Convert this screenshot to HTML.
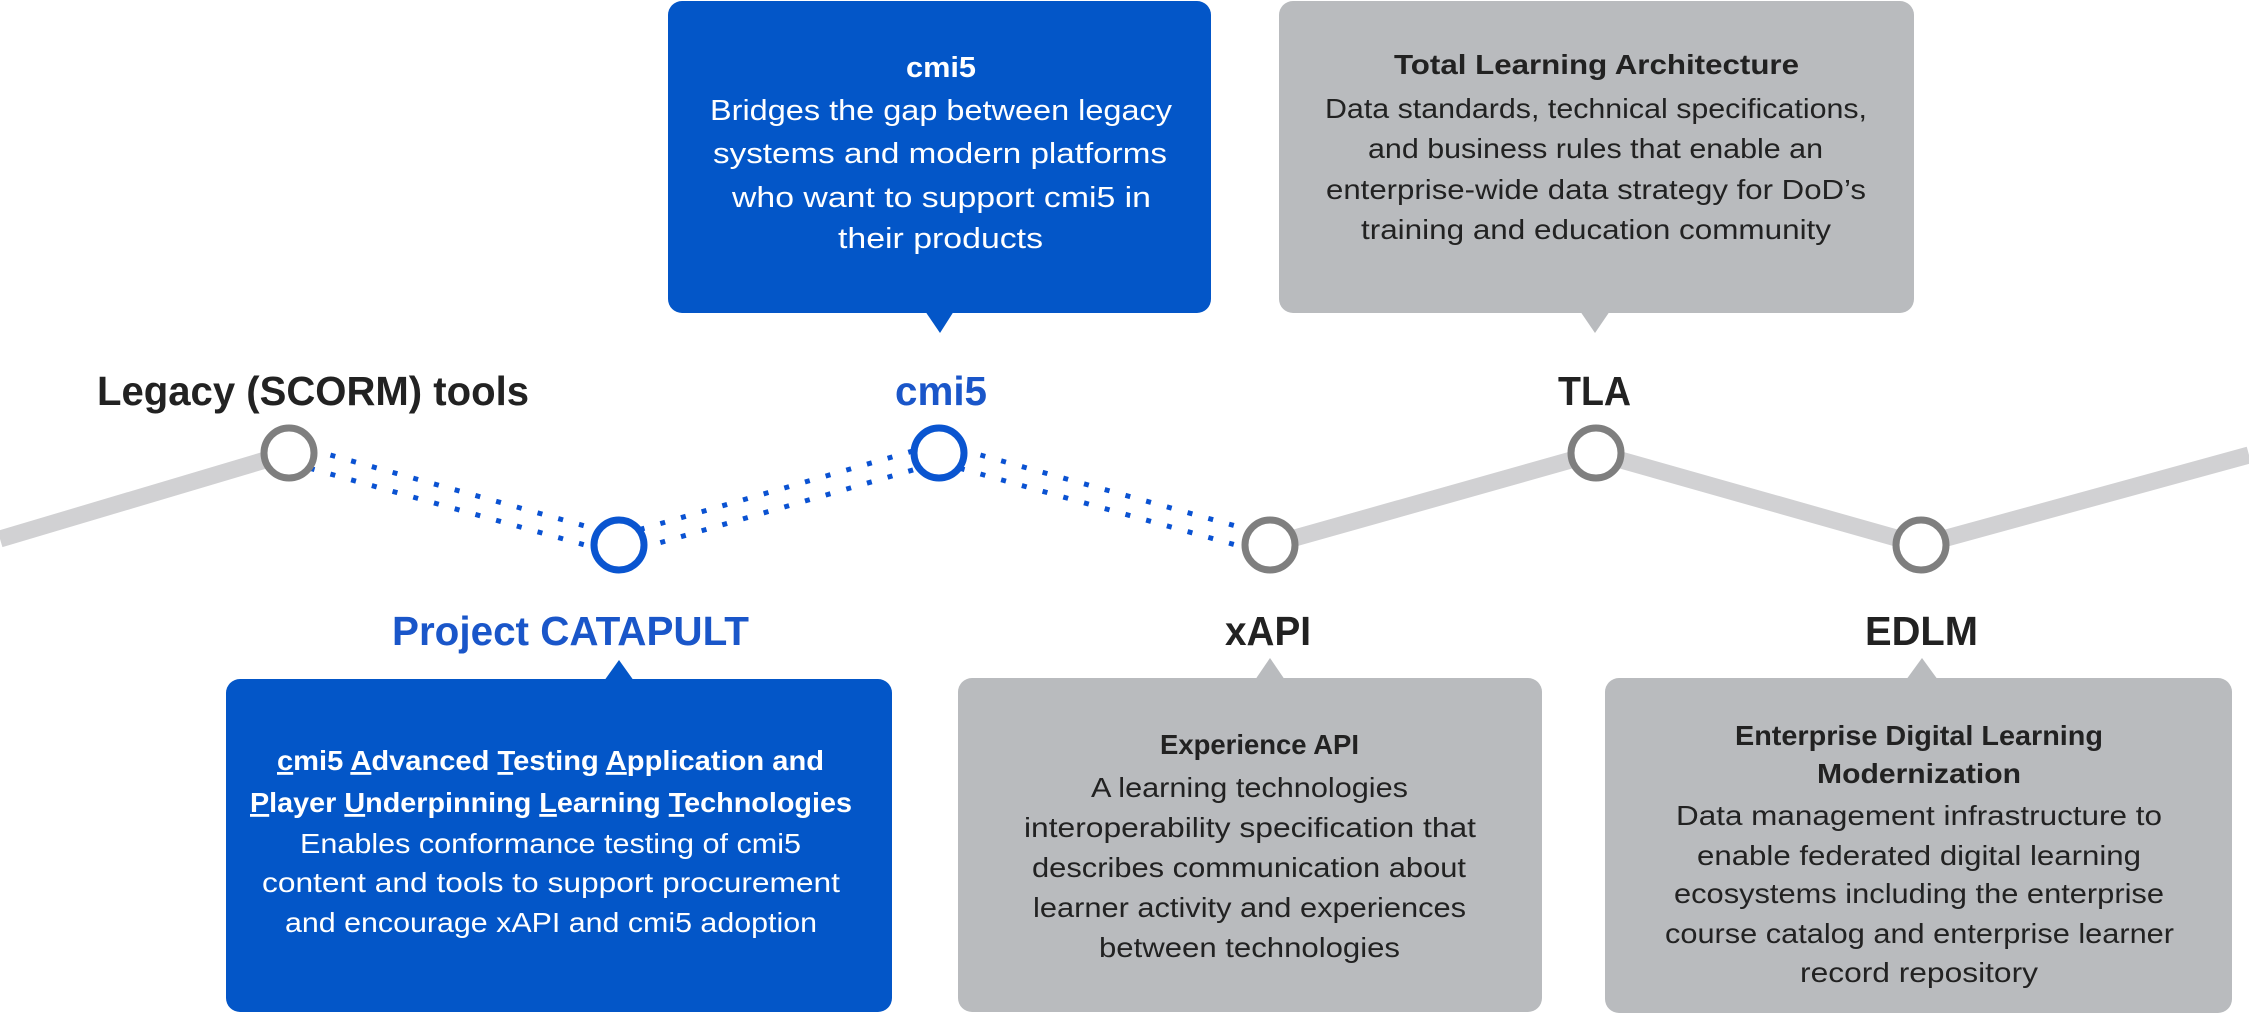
<!DOCTYPE html>
<html>
<head>
<meta charset="utf-8">
<style>
  html, body { margin: 0; padding: 0; background: #ffffff; }
  svg { display: block; }
  text { font-family: "Liberation Sans", Arial, sans-serif; }
</style>
</head>
<body>
<svg width="2249" height="1014" viewBox="0 0 2249 1014" xmlns="http://www.w3.org/2000/svg">
  <!-- Gray timeline segments -->
  <polyline points="0,539 289,453" fill="none" stroke="#d1d1d3" stroke-width="17" stroke-linejoin="round"/>
  <polyline points="1270,545 1596,453 1921,545 2249,455" fill="none" stroke="#d1d1d3" stroke-width="17" stroke-linejoin="round"/>

  <!-- Blue dotted double lines -->
  <g fill="none" stroke="#0a52d2" stroke-width="5" stroke-dasharray="5 16.5">
    <polyline points="289,443.5 619,535.5"/>
    <polyline points="289,462.5 619,554.5"/>
    <polyline points="619,535.5 939,443.5"/>
    <polyline points="619,554.5 939,462.5"/>
    <polyline points="939,443.5 1270,535.5"/>
    <polyline points="939,462.5 1270,554.5"/>
  </g>

  <!-- Nodes -->
  <circle cx="289" cy="453" r="25" fill="#ffffff" stroke="#7f7f7f" stroke-width="7"/>
  <circle cx="619" cy="545" r="25" fill="#ffffff" stroke="#0a55d0" stroke-width="7"/>
  <circle cx="939" cy="453" r="25" fill="#ffffff" stroke="#0a55d0" stroke-width="7"/>
  <circle cx="1270" cy="545" r="25" fill="#ffffff" stroke="#7f7f7f" stroke-width="7"/>
  <circle cx="1596" cy="453" r="25" fill="#ffffff" stroke="#7f7f7f" stroke-width="7"/>
  <circle cx="1921" cy="545" r="25" fill="#ffffff" stroke="#7f7f7f" stroke-width="7"/>

  <!-- Node labels -->
  <g font-size="41" font-weight="bold">
    <text x="97" y="405" fill="#222222" textLength="432" lengthAdjust="spacingAndGlyphs">Legacy (SCORM) tools</text>
    <text x="895" y="405" fill="#1a56c9" textLength="92" lengthAdjust="spacingAndGlyphs">cmi5</text>
    <text x="1558" y="405" fill="#222222" textLength="73" lengthAdjust="spacingAndGlyphs">TLA</text>
    <text x="392" y="645" fill="#1a56c9" textLength="357" lengthAdjust="spacingAndGlyphs">Project CATAPULT</text>
    <text x="1225" y="645" fill="#222222" textLength="86" lengthAdjust="spacingAndGlyphs">xAPI</text>
    <text x="1865" y="645" fill="#222222" textLength="113" lengthAdjust="spacingAndGlyphs">EDLM</text>
  </g>

  <!-- cmi5 top box -->
  <rect x="668" y="1" width="543" height="312" rx="14" ry="14" fill="#0356c8"/>
  <polygon points="925,311 954,311 940,333" fill="#0356c8"/>
  <g fill="#ffffff" font-size="29">
    <text x="906" y="77" font-weight="bold" textLength="70" lengthAdjust="spacingAndGlyphs">cmi5</text>
    <text x="710" y="120" textLength="462" lengthAdjust="spacingAndGlyphs">Bridges the gap between legacy</text>
    <text x="713" y="163" textLength="454" lengthAdjust="spacingAndGlyphs">systems and modern platforms</text>
    <text x="732" y="207" textLength="419" lengthAdjust="spacingAndGlyphs">who want to support cmi5 in</text>
    <text x="838" y="248" textLength="205" lengthAdjust="spacingAndGlyphs">their products</text>
  </g>

  <!-- TLA top box -->
  <rect x="1279" y="1" width="635" height="312" rx="14" ry="14" fill="#b9bbbe"/>
  <polygon points="1580,311 1610,311 1595,333" fill="#b9bbbe"/>
  <g fill="#222222" font-size="28">
    <text x="1394" y="74" font-weight="bold" textLength="405" lengthAdjust="spacingAndGlyphs">Total Learning Architecture</text>
    <text x="1325" y="118" textLength="542" lengthAdjust="spacingAndGlyphs">Data standards, technical specifications,</text>
    <text x="1368" y="158" textLength="455" lengthAdjust="spacingAndGlyphs">and business rules that enable an</text>
    <text x="1326" y="199" textLength="540" lengthAdjust="spacingAndGlyphs">enterprise-wide data strategy for DoD’s</text>
    <text x="1361" y="239" textLength="470" lengthAdjust="spacingAndGlyphs">training and education community</text>
  </g>

  <!-- Project CATAPULT box -->
  <rect x="226" y="679" width="666" height="333" rx="14" ry="14" fill="#0356c8"/>
  <polygon points="604,681 634,681 619,660" fill="#0356c8"/>
  <g fill="#ffffff" font-size="28">
    <text x="277" y="770" font-weight="bold" textLength="547" lengthAdjust="spacingAndGlyphs"><tspan text-decoration="underline">c</tspan>mi5 <tspan text-decoration="underline">A</tspan>dvanced <tspan text-decoration="underline">T</tspan>esting <tspan text-decoration="underline">A</tspan>pplication and</text>
    <text x="250" y="812" font-weight="bold" textLength="602" lengthAdjust="spacingAndGlyphs"><tspan text-decoration="underline">P</tspan>layer <tspan text-decoration="underline">U</tspan>nderpinning <tspan text-decoration="underline">L</tspan>earning <tspan text-decoration="underline">T</tspan>echnologies</text>
    <text x="300" y="853" textLength="501" lengthAdjust="spacingAndGlyphs">Enables conformance testing of cmi5</text>
    <text x="262" y="892" textLength="578" lengthAdjust="spacingAndGlyphs">content and tools to support procurement</text>
    <text x="285" y="932" textLength="532" lengthAdjust="spacingAndGlyphs">and encourage xAPI and cmi5 adoption</text>
  </g>

  <!-- xAPI box -->
  <rect x="958" y="678" width="584" height="334" rx="14" ry="14" fill="#b9bbbe"/>
  <polygon points="1255,680 1285,680 1270,658" fill="#b9bbbe"/>
  <g fill="#222222" font-size="28">
    <text x="1160" y="754" font-weight="bold" textLength="199" lengthAdjust="spacingAndGlyphs">Experience API</text>
    <text x="1091" y="797" textLength="317" lengthAdjust="spacingAndGlyphs">A learning technologies</text>
    <text x="1024" y="837" textLength="452" lengthAdjust="spacingAndGlyphs">interoperability specification that</text>
    <text x="1032" y="877" textLength="434" lengthAdjust="spacingAndGlyphs">describes communication about</text>
    <text x="1033" y="917" textLength="433" lengthAdjust="spacingAndGlyphs">learner activity and experiences</text>
    <text x="1099" y="957" textLength="301" lengthAdjust="spacingAndGlyphs">between technologies</text>
  </g>

  <!-- EDLM box -->
  <rect x="1605" y="678" width="627" height="335" rx="14" ry="14" fill="#b9bbbe"/>
  <polygon points="1906,680 1938,680 1922,658" fill="#b9bbbe"/>
  <g fill="#222222" font-size="28">
    <text x="1735" y="745" font-weight="bold" textLength="368" lengthAdjust="spacingAndGlyphs">Enterprise Digital Learning</text>
    <text x="1817" y="783" font-weight="bold" textLength="204" lengthAdjust="spacingAndGlyphs">Modernization</text>
    <text x="1676" y="825" textLength="486" lengthAdjust="spacingAndGlyphs">Data management infrastructure to</text>
    <text x="1697" y="865" textLength="444" lengthAdjust="spacingAndGlyphs">enable federated digital learning</text>
    <text x="1674" y="903" textLength="490" lengthAdjust="spacingAndGlyphs">ecosystems including the enterprise</text>
    <text x="1665" y="943" textLength="509" lengthAdjust="spacingAndGlyphs">course catalog and enterprise learner</text>
    <text x="1800" y="982" textLength="238" lengthAdjust="spacingAndGlyphs">record repository</text>
  </g>
</svg>
</body>
</html>
